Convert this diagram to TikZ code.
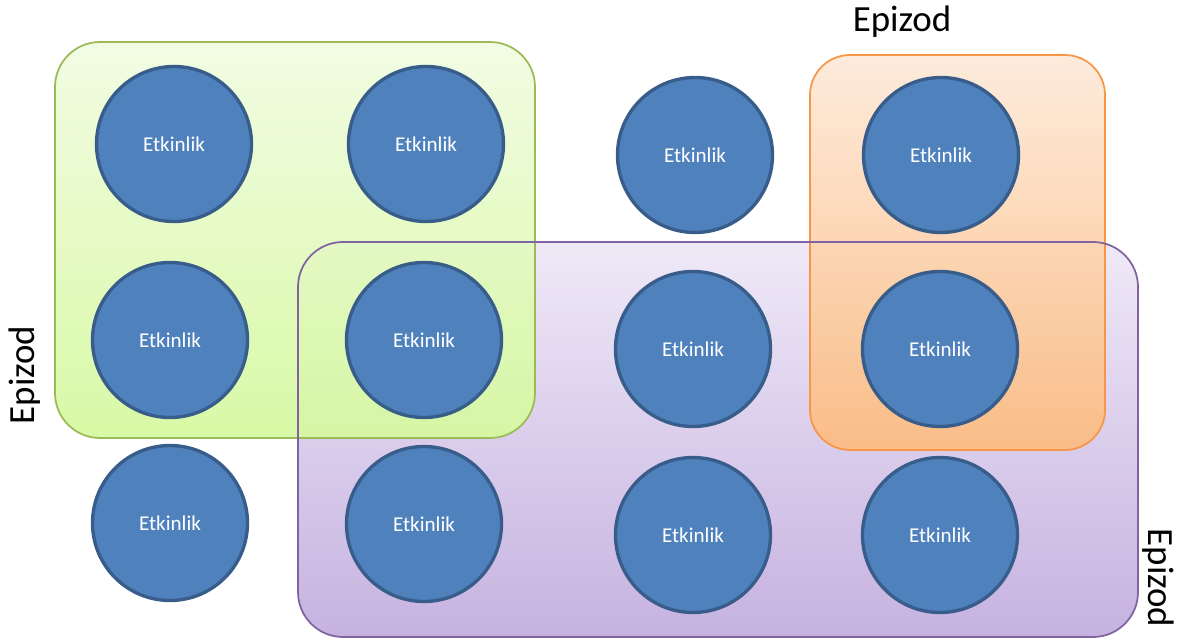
\documentclass[tikz,border=0pt]{standalone}
\usepackage{fontspec}
\setmainfont{Carlito}
\definecolor{evfill}{HTML}{4F81BD}
\definecolor{evline}{HTML}{385D8A}
\definecolor{grline}{HTML}{9BBB59}
\definecolor{orline}{HTML}{F79646}
\definecolor{puline}{HTML}{8064A2}
\definecolor{grtop}{HTML}{F1FCE2}
\definecolor{grbot}{HTML}{D6F9A0}
\definecolor{ortop}{HTML}{FDEADA}
\definecolor{orbot}{HTML}{FCBC82}
\definecolor{putop}{HTML}{EFE9F7}
\definecolor{pubot}{HTML}{C6B2E0}
\tikzset{
  etkinlik/.style={circle,draw=evline,line width=1.9pt,fill=evfill,
    minimum size=3.1cm,inner sep=0pt,text=white,font=\fontsize{12}{14}\selectfont},
  epizod/.style={font=\fontsize{21}{25}\selectfont},
}
\begin{document}
\begin{tikzpicture}
  \useasboundingbox (0,0) rectangle (23.58,-12.82);
  % episode boxes
  \shade[top color=putop,bottom color=pubot,rounded corners=0.9cm]
    (5.96,-4.84) rectangle (22.76,-12.74);
  \shade[top color=grtop,bottom color=grbot,rounded corners=0.9cm,opacity=0.94]
    (1.1,-0.84) rectangle (10.7,-8.76);
  \draw[grline,line width=1pt,rounded corners=0.9cm] (1.1,-0.84) rectangle (10.7,-8.76);
  \shade[top color=ortop,bottom color=orbot,rounded corners=0.8cm,opacity=0.94]
    (16.2,-1.1) rectangle (22.1,-9.0);
  \draw[orline,line width=1pt,rounded corners=0.8cm] (16.2,-1.1) rectangle (22.1,-9.0);
  \draw[puline,line width=1pt,rounded corners=0.9cm] (5.96,-4.84) rectangle (22.76,-12.74);
  % events
  \node[etkinlik] (e11) at (3.48,-2.88) {Etkinlik};
  \node[etkinlik] (e12) at (8.52,-2.88) {Etkinlik};
  \node[etkinlik] (e13) at (13.9,-3.1) {Etkinlik};
  \node[etkinlik] (e14) at (18.82,-3.1) {Etkinlik};
  \node[etkinlik] (e21) at (3.4,-6.8) {Etkinlik};
  \node[etkinlik] (e22) at (8.48,-6.8) {Etkinlik};
  \node[etkinlik] (e23) at (13.86,-6.98) {Etkinlik};
  \node[etkinlik] (e24) at (18.8,-6.98) {Etkinlik};
  \node[etkinlik] (e31) at (3.4,-10.46) {Etkinlik};
  \node[etkinlik] (e32) at (8.48,-10.48) {Etkinlik};
  \node[etkinlik] (e33) at (13.86,-10.7) {Etkinlik};
  \node[etkinlik] (e34) at (18.8,-10.7) {Etkinlik};
  % labels
  \node[epizod] (ep1) at (18.04,-0.44) {Epizod};
  \node[epizod,rotate=90] (ep2) at (0.5,-7.5) {Epizod};
  \node[epizod,rotate=-90] (ep3) at (23.16,-11.56) {Epizod};
\end{tikzpicture}
\end{document}
